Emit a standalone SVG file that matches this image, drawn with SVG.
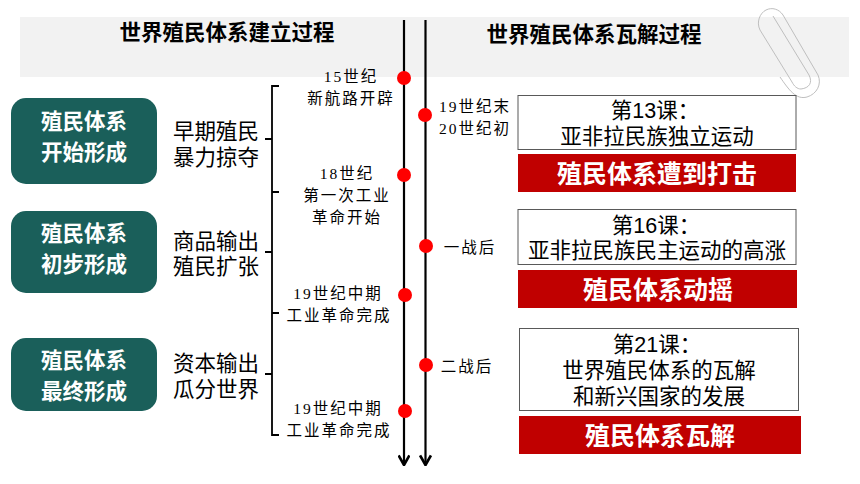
<svg xmlns="http://www.w3.org/2000/svg" width="860" height="484" viewBox="0 0 860 484">
<defs>
<style>
text{font-family:"Liberation Sans","Noto Sans CJK SC",sans-serif;text-anchor:middle;fill:#000}
.hd{font-size:21.5px;font-weight:700}
.gn{fill:#1a5f5a}
.gt{fill:#fff;font-size:21.5px;font-weight:700}
.lb{font-size:21.5px}
.sm{font-family:"Liberation Serif","Noto Sans CJK SC",serif;font-size:15.5px;letter-spacing:2px}
.box{fill:#fff;stroke:#595959;stroke-width:1}
.red{fill:#c00000}
.rt{fill:#fff;font-size:25px;font-weight:700}
.line{fill:none;stroke:#000;stroke-width:2.2}
.br{fill:none;stroke:#000;stroke-width:1.8}
.dot{fill:#f00}
.clip{fill:none;stroke:#bfbfbf;stroke-width:1}
</style>
<marker id="ah" viewBox="0 0 10 10" refX="9" refY="5" markerWidth="5.500" markerHeight="5.500" orient="auto" markerUnits="strokeWidth">
<path d="M1 0.5L9 5L1 9.5" fill="none" stroke="#000" stroke-width="2.200"/>
</marker>
</defs>
<rect width="860" height="484" fill="#fff"/>
<rect id="band" x="20" y="17" width="829" height="60" fill="#f2f2f2"/>
<path id="paperclip" class="clip" d="M773 16L809 75C813 83 809 88 801 89C797 89 794 86 792 82L760 30C756 22 760 13 766 10C772 7 779 9 783 15L818 75C822 84 817 94 807 97C796 100 789 90 780 77"/>
<g id="headers">
<text class="hd" x="227" y="40">世界殖民体系建立过程</text>
<text class="hd" x="594" y="42">世界殖民体系瓦解过程</text>
</g>
<g id="connectors">
<path class="line" d="M404 20V465" marker-end="url(#ah)"/>
<path class="line" d="M425.500 20V465" marker-end="url(#ah)"/>
<path class="br" d="M279 86H272V192M265 139H272M272 192H279M272 192V313M265 252H272M272 313H279M272 313V435H279M265 374H272"/>
</g>
<g id="node-start"><rect class="gn" x="11" y="98" width="146" height="86" rx="15"/><text class="gt" x="84" y="129">殖民体系</text><text class="gt" x="84" y="160">开始形成</text></g>
<g id="node-early"><text class="lb" x="216" y="139">早期殖民</text><text class="lb" x="216" y="165">暴力掠夺</text></g>
<g id="node-initial"><rect class="gn" x="11" y="211" width="146" height="82" rx="15"/><text class="gt" x="84" y="241">殖民体系</text><text class="gt" x="84" y="272">初步形成</text></g>
<g id="node-trade"><text class="lb" x="216" y="249">商品输出</text><text class="lb" x="216" y="274">殖民扩张</text></g>
<g id="node-final"><rect class="gn" x="11" y="338" width="146" height="73" rx="15"/><text class="gt" x="84" y="368">殖民体系</text><text class="gt" x="84" y="399">最终形成</text></g>
<g id="node-capital"><text class="lb" x="216" y="371">资本输出</text><text class="lb" x="216" y="397">瓜分世界</text></g>
<g id="t1"><circle class="dot" cx="404" cy="78" r="7"/><text class="sm" x="351" y="82">15世纪</text><text class="sm" x="351" y="104">新航路开辟</text></g>
<g id="t2"><circle class="dot" cx="404" cy="175" r="7"/><text class="sm" x="347" y="179">18世纪</text><text class="sm" x="347" y="201">第一次工业</text><text class="sm" x="347" y="223">革命开始</text></g>
<g id="t3"><circle class="dot" cx="405" cy="295" r="7"/><text class="sm" x="338" y="299">19世纪中期</text><text class="sm" x="339" y="321">工业革命完成</text></g>
<g id="t4"><circle class="dot" cx="405" cy="411" r="7"/><text class="sm" x="338" y="414">19世纪中期</text><text class="sm" x="339" y="436">工业革命完成</text></g>
<g id="t5"><circle class="dot" cx="425" cy="115" r="7"/><text class="sm" x="475" y="112">19世纪末</text><text class="sm" x="475" y="134">20世纪初</text></g>
<g id="t6"><circle class="dot" cx="426" cy="246" r="7"/><text class="sm" x="470" y="253">一战后</text></g>
<g id="t7"><circle class="dot" cx="426" cy="365" r="7"/><text class="sm" x="467" y="372">二战后</text></g>
<g id="lesson13"><rect class="box" x="518" y="95.500" width="278" height="54"/><text class="lb" x="655" y="118">第13课：</text><text class="lb" x="657" y="144">亚非拉民族独立运动</text></g>
<g id="status1"><rect class="red" x="518" y="154" width="278" height="38"/><text class="rt" x="657" y="183">殖民体系遭到打击</text></g>
<g id="lesson16"><rect class="box" x="518" y="209.500" width="278" height="55"/><text class="lb" x="656" y="233">第16课：</text><text class="lb" x="657" y="258">亚非拉民族民主运动的高涨</text></g>
<g id="status2"><rect class="red" x="518" y="270" width="279" height="38"/><text class="rt" x="658" y="299">殖民体系动摇</text></g>
<g id="lesson21"><rect class="box" x="519.500" y="328.500" width="279" height="82"/><text class="lb" x="657" y="352">第21课：</text><text class="lb" x="659" y="378">世界殖民体系的瓦解</text><text class="lb" x="659" y="404">和新兴国家的发展</text></g>
<g id="status3"><rect class="red" x="519" y="416" width="282" height="38"/><text class="rt" x="660" y="445">殖民体系瓦解</text></g>
</svg>
